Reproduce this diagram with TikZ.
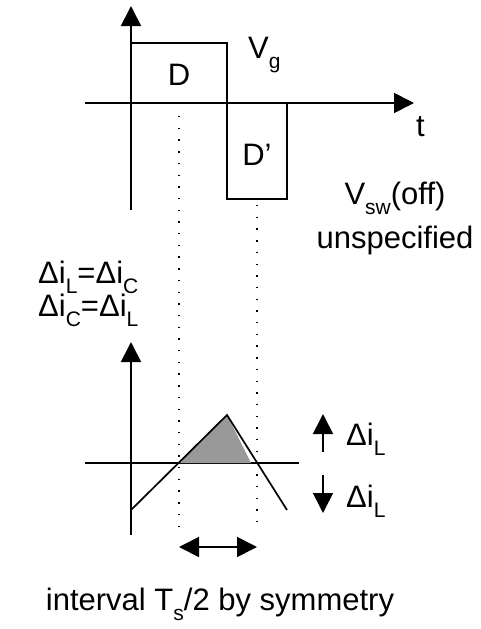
\documentclass[tikz,border=0pt]{standalone}
\usepackage{fontspec}
\setmainfont{Liberation Sans}
\usetikzlibrary{arrows.meta}
\newcommand{\lowsub}[1]{\raisebox{-0.33em}{\fontsize{21}{22}\selectfont #1}}
\tikzset{
  headtip/.tip={Triangle[length=20pt,width=20pt]},
  axisline/.style={line width=1.7pt, -headtip},
  waveline/.style={line width=1.7pt},
  guideline/.style={line width=1.4pt, dash pattern=on 1.4pt off 10.3pt},
  lbl/.style={font=\fontsize{31}{34}\selectfont, inner sep=0pt},
}
\begin{document}
\begin{tikzpicture}[x=1pt,y=-1pt]
  \useasboundingbox (0,0) rectangle (480,629);

  % switch voltage waveform
  \coordinate (vorigin) at (131,210);
  \coordinate (vtop) at (131,6);
  \coordinate (tstart) at (85,103);
  \coordinate (tend) at (414,103);
  \draw[axisline] (vorigin) -- (vtop);
  \draw[axisline] (tstart) -- (tend);
  \draw[waveline] (131,43) -- (227,43) -- (227,199) -- (287,199) -- (287,103);

  \node[lbl] (dlabel) at (179,75) {D};
  \node[lbl] (dplabel) at (257,155) {D\char39};
  \node[lbl, anchor=base west] (vglabel) at (248,58) {V\lowsub{g}};
  \node[lbl, anchor=base west] (tlabel) at (416,136) {t};
  \node[lbl, anchor=base] (vswlabel) at (395,204) {V\lowsub{sw}(off)};
  \node[lbl, anchor=base] (unspec) at (395,248) {unspecified};

  % ripple waveform
  \node[lbl, anchor=base west] (eqone) at (38,283) {Δi\lowsub{L}=Δi\lowsub{C}};
  \node[lbl, anchor=base west] (eqtwo) at (38,316) {Δi\lowsub{C}=Δi\lowsub{L}};
  \coordinate (iorigin) at (131,535);
  \coordinate (itop) at (131,342);
  \coordinate (istart) at (85,463);
  \coordinate (iend) at (299,463);
  \draw[axisline] (iorigin) -- (itop);
  \draw[waveline] (istart) -- (iend);

  \coordinate (rampstart) at (131,510);
  \coordinate (peak) at (227,415);
  \coordinate (rampend) at (287,510);
  \coordinate (crossup) at (179,463);
  \coordinate (crossdown) at (251,463);
  \fill[gray!80] (crossup) -- (peak) -- (crossdown) -- cycle;
  \draw[waveline] (rampstart) -- (peak) -- (rampend);

  % ripple amplitude
  \coordinate (upfoot) at (323,452);
  \coordinate (uphead) at (323,414);
  \coordinate (downfoot) at (323,475);
  \coordinate (downhead) at (323,513);
  \draw[axisline] (upfoot) -- (uphead);
  \draw[axisline] (downfoot) -- (downhead);
  \node[lbl, anchor=base west] (upripple) at (346,445) {Δi\lowsub{L}};
  \node[lbl, anchor=base west] (downripple) at (346,507) {Δi\lowsub{L}};

  % half period
  \coordinate (guideatop) at (179,116);
  \coordinate (guideabot) at (179,530);
  \coordinate (guidebtop) at (257,205);
  \coordinate (guidebbot) at (257,530);
  \draw[guideline] (guideatop) -- (guideabot);
  \draw[guideline] (guidebtop) -- (guidebbot);
  \coordinate (spanleft) at (179,547);
  \coordinate (spanright) at (257,547);
  \draw[line width=1.7pt, headtip-headtip] (spanleft) -- (spanright);
  \node[lbl, anchor=base] (symtext) at (220,610) {interval T\lowsub{s}/2 by symmetry};
\end{tikzpicture}
\end{document}
